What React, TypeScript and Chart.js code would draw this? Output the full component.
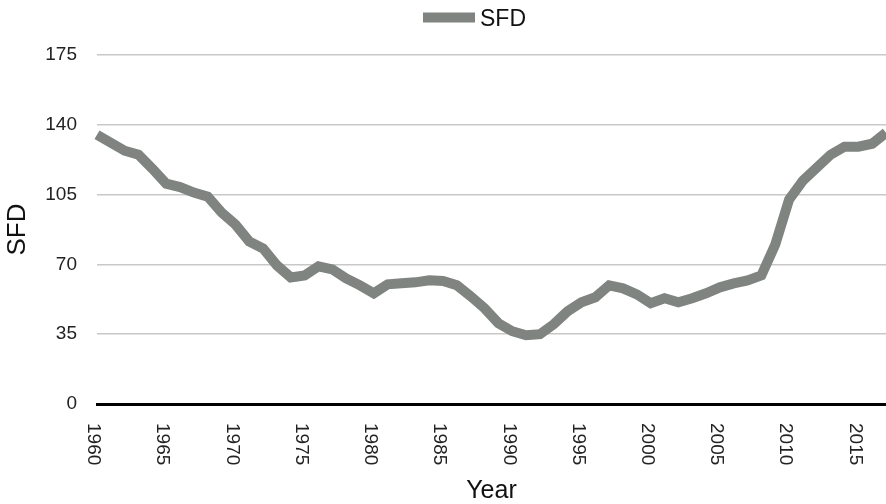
import React, { useEffect, useRef } from "react";
import { Chart, registerables } from "chart.js";

Chart.register(...registerables);

const years: string[] = [
  "1960", "1961", "1962", "1963", "1964", "1965", "1966", "1967", "1968", "1969",
  "1970", "1971", "1972", "1973", "1974", "1975", "1976", "1977", "1978", "1979",
  "1980", "1981", "1982", "1983", "1984", "1985", "1986", "1987", "1988", "1989",
  "1990", "1991", "1992", "1993", "1994", "1995", "1996", "1997", "1998", "1999",
  "2000", "2001", "2002", "2003", "2004", "2005", "2006", "2007", "2008", "2009",
  "2010", "2011", "2012", "2013", "2014", "2015", "2016", "2017",
];

const sfd: number[] = [
  135, 131, 127, 125, 118, 110.5, 108.8, 106, 104, 96,
  90, 81.5, 78, 69.5, 63.5, 64.5, 69, 67.5, 63, 59.5,
  55.5, 60, 60.5, 61, 62, 61.7, 59.5, 54, 48, 40.5,
  36.5, 34.5, 35, 40, 46.5, 51, 53.5, 59.5, 58, 55,
  50.5, 53, 51, 53, 55.5, 58.5, 60.5, 62, 64.5, 80,
  102.5, 112, 118.5, 125, 129, 129, 130.5, 136,
];

const xTickLabels: string[] = [
  "1960", "1965", "1970", "1975", "1980", "1985", "1990", "1995", "2000", "2005", "2010", "2015",
];

const yTicks: number[] = [0, 35, 70, 105, 140, 175];

const seriesName = "SFD";
const xTitle = "Year";
const yTitle = "SFD";

const LINE_COLOR = "#7f8480";
const FONT = "'Liberation Sans', Arial, Helvetica, sans-serif";

export default function App() {
  const ref = useRef<HTMLCanvasElement | null>(null);

  useEffect(() => {
    if (!ref.current) return;

    const customDraw = {
      id: "customDraw",
      afterDraw(chart: any) {
        const ctx = chart.ctx;
        const xs = chart.scales.x;
        // rotated x tick labels (clockwise, reading top to bottom)
        ctx.save();
        ctx.fillStyle = "#222";
        ctx.font = `19px ${FONT}`;
        ctx.textAlign = "left";
        ctx.textBaseline = "middle";
        xTickLabels.forEach((lab) => {
          const idx = years.indexOf(lab);
          if (idx < 0) return;
          const px = xs.getPixelForValue(idx) - 3.5;
          ctx.save();
          ctx.translate(px, 423);
          ctx.rotate(Math.PI / 2);
          ctx.fillText(lab, 0, 0);
          ctx.restore();
        });
        ctx.restore();

        // legend
        ctx.save();
        ctx.fillStyle = LINE_COLOR;
        ctx.fillRect(423, 12.5, 52, 10);
        ctx.fillStyle = "#111";
        ctx.font = `23px ${FONT}`;
        ctx.textAlign = "left";
        ctx.textBaseline = "alphabetic";
        ctx.fillText(seriesName, 480, 26);
        ctx.restore();
      },
    };

    const chart = new Chart(ref.current, {
      type: "line",
      data: {
        labels: years,
        datasets: [
          {
            label: seriesName,
            data: sfd,
            borderColor: LINE_COLOR,
            backgroundColor: LINE_COLOR,
            borderWidth: 10,
            pointRadius: 0,
            tension: 0,
            fill: false,
          },
        ],
      },
      options: {
        animation: false,
        responsive: true,
        maintainAspectRatio: false,
        layout: { padding: { top: 55, right: 0, left: 0, bottom: 0 } },
        plugins: {
          legend: { display: false },
          tooltip: { enabled: false },
        },
        scales: {
          x: {
            type: "category",
            offset: false,
            grid: { display: false, drawTicks: false },
            border: { display: true, color: "#000", width: 3 },
            ticks: { display: false },
            title: {
              display: true,
              text: xTitle,
              color: "#111",
              font: { family: FONT, size: 25, lineHeight: 1 },
              padding: 0,
            },
            afterFit(scale: any) {
              scale.height = 100;
              scale.paddingLeft = 0;
              scale.paddingRight = 0;
            },
          },
          y: {
            min: 0,
            max: 175,
            afterBuildTicks(scale: any) {
              scale.ticks = yTicks.map((v) => ({ value: v }));
            },
            grid: { color: "#c8c8c8", lineWidth: 1.5, drawTicks: false },
            border: { display: false },
            ticks: {
              color: "#222",
              padding: 20,
              font: { family: FONT, size: 19 },
            },
            title: {
              display: true,
              text: yTitle,
              color: "#111",
              font: { family: FONT, size: 26 },
              padding: { top: 2, bottom: 0 },
            },
            afterFit(scale: any) {
              scale.width = 97;
            },
          },
        },
      },
      plugins: [customDraw],
    });

    return () => chart.destroy();
  }, []);

  return (
    <div style={{ position: "absolute", left: 0, top: 0, width: 886, height: 504 }}>
      <canvas ref={ref} />
    </div>
  );
}
